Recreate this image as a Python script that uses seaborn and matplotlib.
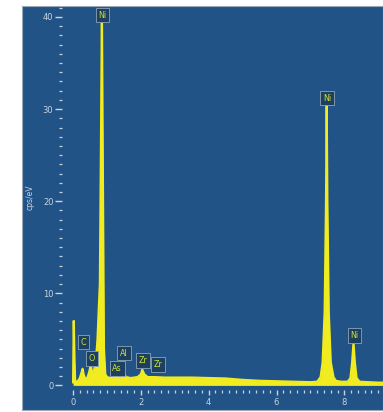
import matplotlib
matplotlib.use("Agg")
import matplotlib.pyplot as plt
from matplotlib.ticker import MultipleLocator
import seaborn as sns
import pandas as pd

# ---- data ----
energy = [0.0, 0.02, 0.04, 0.06, 0.1, 0.15, 0.2, 0.25, 0.28, 0.31, 0.36, 0.42,
          0.48, 0.52, 0.56, 0.62, 0.68, 0.72, 0.76, 0.79, 0.82, 0.85, 0.88, 0.91,
          0.95, 1.0, 1.1, 1.2, 1.28, 1.34, 1.42, 1.49, 1.56, 1.7, 1.9, 2.0, 2.04,
          2.1, 2.2, 2.4, 2.7, 3.0, 3.5, 4.0, 4.5, 5.0, 5.5, 6.0, 6.5, 7.0, 7.2,
          7.3, 7.36, 7.42, 7.46, 7.48, 7.5, 7.54, 7.6, 7.68, 7.75, 7.9, 8.1, 8.18, 8.23,
          8.27, 8.31, 8.36, 8.45, 8.7, 9.0, 9.15]
cps = [0.3, 7.0, 3.0, 0.5, 0.4, 0.5, 0.8, 1.4, 1.8, 1.2, 0.7, 0.8,
       1.5, 2.2, 1.4, 1.6, 3.0, 5.0, 8.5, 11.0, 25.0, 40.5, 22.0, 4.0,
       1.2, 0.9, 0.8, 0.8, 1.1, 0.8, 0.9, 1.4, 0.9, 0.8, 0.9, 1.2, 1.7,
       1.2, 0.9, 0.9, 0.85, 0.85, 0.85, 0.8, 0.75, 0.6, 0.5, 0.45, 0.4, 0.35, 0.4,
       0.9, 2.5, 8.0, 20.0, 30.5, 20.0, 8.0, 2.5, 0.9, 0.5, 0.4, 0.4, 0.8, 2.5,
       4.6, 2.5, 0.8, 0.4, 0.35, 0.3, 0.3]

label_text = ["Ni", "Ni", "Ni", "C", "O", "As", "Al", "Zr", "Zr"]
label_x = [0.87, 7.49, 8.3, 0.3, 0.56, 1.3, 1.5, 2.06, 2.5]
label_y = [40.2, 31.2, 5.4, 4.7, 2.9, 1.85, 3.5, 2.7, 2.3]

xticks = [0, 2, 4, 6, 8]
yticks = [0, 10, 20, 30, 40]

# ---- figure ----
sns.set_style("white")
W, H = 383, 412
fig = plt.figure(figsize=(W / 100, H / 100), dpi=100)
fig.patch.set_facecolor("white")
bg = "#225386"

# background panel
bgax = fig.add_axes([22 / W, 2 / H, 1 - 22 / W, (H - 8) / H], zorder=0)
bgax.set_facecolor(bg)
bgax.set_xticks([])
bgax.set_yticks([])
for s in bgax.spines.values():
    s.set_color("#9aa8b8")
    s.set_linewidth(0.8)

ax = fig.add_axes([68 / W, (H - 390) / H, 316 / W, 385 / H], zorder=1)
ax.set_facecolor("none")
df = pd.DataFrame({"energy": energy, "cps": cps})
yellow = "#f1ec1f"
ax.fill_between(df["energy"], 0, df["cps"], color=yellow, lw=0, zorder=2)
sns.lineplot(data=df, x="energy", y="cps", ax=ax, color=yellow, lw=1.6,
             sort=True, zorder=3)

ax.set_xlim(-0.15, 9.17)
ax.set_ylim(-0.5, 41.3)
for s in ax.spines.values():
    s.set_visible(False)
ax.spines["left"].set_position(("outward", 4))

tc = "#c6d3e0"
ax.xaxis.set_minor_locator(MultipleLocator(0.2))
ax.yaxis.set_minor_locator(MultipleLocator(1))
ax.set_xticks(xticks)
ax.set_yticks(yticks)
ax.tick_params(axis="both", which="both", bottom=True, left=True,
               top=False, right=False)
ax.tick_params(axis="x", which="major", length=3.5, width=1.0, color=tc,
               labelcolor=tc, labelsize=6, pad=2, direction="out")
ax.tick_params(axis="x", which="minor", length=2, width=0.9, color=tc,
               direction="out")
ax.tick_params(axis="y", which="major", length=5, width=1.0, color=tc,
               labelcolor=tc, labelsize=6, pad=1.5, direction="out")
ax.tick_params(axis="y", which="minor", length=2, width=0.9, color=tc,
               direction="out")
ax.set_xlabel("")
ax.set_ylabel("cps/eV", color=tc, fontsize=5.5, labelpad=6)

for t, x, y in zip(label_text, label_x, label_y):
    ax.text(x, y, t, ha="center", va="center", fontsize=5.8, color="#c9e23a",
            zorder=5,
            bbox=dict(boxstyle="square,pad=0.35", facecolor="#1d3f60",
                      edgecolor="#8fa3b6", lw=0.6))

fig.savefig("out.png", dpi=100)
